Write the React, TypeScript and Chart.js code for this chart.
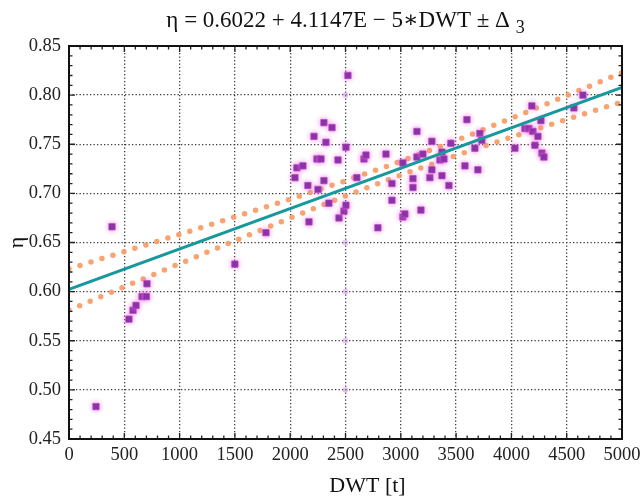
import { useEffect, useRef } from "react";
import { Chart, registerables } from "chart.js";

Chart.register(...registerables);

// Measured vessels: deadweight (t) and efficiency
const dwtValues = [
  244, 389, 542, 579, 606, 660, 700, 705, 1500, 1781,
  2043, 2061, 2115, 2160, 2170, 2215, 2242, 2278, 2251, 2305,
  2305, 2323, 2350, 2378, 2432, 2441, 2486, 2504, 2504, 2522,
  2603, 2667, 2685, 2793,
  2866, 2920, 2920, 3019, 3019, 3037, 3110, 3110, 3146, 3146,
  3182, 3200, 3263, 3281, 3281, 3354, 3372, 3372, 3390, 3435, 3453,
  3580, 3598, 3670, 3697, 3715, 3733, 4032, 4122, 4158, 4185,
  4195, 4213, 4240, 4267, 4276, 4294, 4565, 4647,
];
const etaValues = [
  0.483, 0.666, 0.572, 0.581, 0.586, 0.595, 0.595, 0.608, 0.628, 0.66,
  0.716, 0.726, 0.728, 0.708, 0.671, 0.758, 0.735, 0.735, 0.704, 0.772,
  0.713, 0.752, 0.69, 0.767, 0.734, 0.675, 0.682, 0.688, 0.747, 0.82,
  0.716, 0.735, 0.739, 0.665,
  0.74, 0.71, 0.693, 0.731, 0.676, 0.679, 0.715, 0.706, 0.763, 0.737,
  0.683, 0.74, 0.716, 0.753, 0.724, 0.734, 0.742, 0.718, 0.735, 0.708, 0.751,
  0.728, 0.775, 0.746, 0.724, 0.761, 0.754, 0.746, 0.766, 0.766, 0.789,
  0.763, 0.749, 0.758, 0.774, 0.741, 0.737, 0.787, 0.8,
];

// Faint markers along the 2500 grid line
const faintDwt = [2500, 2500, 2500, 2500, 2500];
const faintEta = [0.8, 0.65, 0.6, 0.55, 0.5];

// Regression line
const fitDwt = [0, 5000];
const fitEta = [0.6022, 0.8079];

// Confidence band (±Δ3)
const bandDwt = [0, 500, 1000, 1500, 2000, 2500, 3000, 3500, 4000, 4500, 5000];
const bandUpper = [0.6232, 0.6407, 0.6582, 0.676, 0.6941, 0.7128, 0.7326, 0.7539, 0.7764, 0.7995, 0.8228];
const bandLower = [0.5812, 0.6049, 0.6284, 0.6518, 0.6749, 0.6974, 0.7186, 0.7385, 0.7572, 0.7753, 0.793];

const xTicks = [0, 500, 1000, 1500, 2000, 2500, 3000, 3500, 4000, 4500, 5000];
const yTicks = [0.45, 0.5, 0.55, 0.6, 0.65, 0.7, 0.75, 0.8, 0.85];

const titleMain = "η = 0.6022 + 4.1147E − 5∗DWT ± Δ";
const titleSub = "3";
const xTitle = "DWT [t]";
const yTitle = "η";

const SERIF = "'Liberation Serif', 'DejaVu Serif', serif";

const pts = (xs: number[], ys: number[]) => xs.map((x, i) => ({ x, y: ys[i] }));

const framePlugin = {
  id: "frame",
  beforeDatasetDraw(chart: any, args: any) {
    if (args.meta.label === "measured" || args.meta.label === "faint") {
      const ctx = chart.ctx;
      ctx.save();
      ctx.shadowColor = args.meta.label === "measured" ? "rgba(235,110,225,0.85)" : "rgba(235,150,230,0.5)";
      ctx.shadowBlur = 5;
    }
  },
  afterDatasetDraw(chart: any, args: any) {
    if (args.meta.label === "measured" || args.meta.label === "faint") {
      chart.ctx.restore();
    }
  },
  afterDraw(chart: any) {
    const { ctx, chartArea: a, scales } = chart;
    const xs = scales.x;
    const ys = scales.y;
    ctx.save();
    // minor ticks
    ctx.strokeStyle = "#222";
    ctx.lineWidth = 1.3;
    ctx.beginPath();
    for (let v = 0; v <= 5000; v += 100) {
      const px = xs.getPixelForValue(v);
      const len = v % 500 === 0 ? 6 : 3.5;
      ctx.moveTo(px, a.bottom);
      ctx.lineTo(px, a.bottom - len);
      ctx.moveTo(px, a.top);
      ctx.lineTo(px, a.top + len);
    }
    for (let k = 45; k <= 85; k += 1) {
      const py = ys.getPixelForValue(k / 100);
      const len = k % 5 === 0 ? 6 : 3.5;
      ctx.moveTo(a.left, py);
      ctx.lineTo(a.left + len, py);
      ctx.moveTo(a.right, py);
      ctx.lineTo(a.right - len, py);
    }
    ctx.stroke();
    // frame
    ctx.strokeStyle = "#111";
    ctx.lineWidth = 2;
    ctx.strokeRect(a.left, a.top, a.right - a.left, a.bottom - a.top);

    // title with subscript
    ctx.fillStyle = "#111";
    ctx.font = `23px ${SERIF}`;
    ctx.textBaseline = "alphabetic";
    const wMain = ctx.measureText(titleMain + " ").width;
    ctx.font = `18px ${SERIF}`;
    const wSub = ctx.measureText(titleSub).width;
    const total = wMain + wSub;
    const cx = (a.left + a.right) / 2;
    const startX = cx - total / 2;
    ctx.font = `23px ${SERIF}`;
    ctx.textAlign = "left";
    ctx.fillText(titleMain + " ", startX, 27);
    ctx.font = `18px ${SERIF}`;
    ctx.fillText(titleSub, startX + wMain, 33);

    // x title
    ctx.font = `22px ${SERIF}`;
    ctx.textAlign = "center";
    ctx.fillText(xTitle, cx + 22, 492);

    // y title
    ctx.save();
    ctx.translate(17, (a.top + a.bottom) / 2);
    ctx.rotate(-Math.PI / 2);
    ctx.font = `22px ${SERIF}`;
    ctx.textAlign = "center";
    ctx.textBaseline = "middle";
    ctx.fillText(yTitle, 0, 0);
    ctx.restore();

    ctx.restore();
  },
};

export default function App() {
  const ref = useRef<HTMLCanvasElement | null>(null);

  useEffect(() => {
    document.body.style.margin = "0";
    const canvas = ref.current;
    if (!canvas) return;
    const chart = new Chart(canvas, {
      type: "scatter",
      data: {
        datasets: [
          {
            label: "fit",
            type: "line",
            data: pts(fitDwt, fitEta),
            borderColor: "#17989c",
            borderWidth: 3,
            pointRadius: 0,
            fill: false,
            order: 0,
          } as any,
          {
            label: "measured",
            data: pts(dwtValues, etaValues),
            pointStyle: "rect",
            pointRadius: 4.5,
            backgroundColor: "#7a2c9c",
            borderColor: "rgba(190,70,200,0.7)",
            borderWidth: 1,
            order: 1,
          },
          {
            label: "faint",
            data: pts(faintDwt, faintEta),
            pointStyle: "rect",
            pointRadius: 3,
            backgroundColor: "rgba(175,150,235,0.45)",
            borderColor: "rgba(235,150,230,0.3)",
            borderWidth: 1,
            order: 1,
          },
          {
            label: "upper",
            type: "line",
            data: pts(bandDwt, bandUpper),
            borderColor: "rgba(248,158,105,0.95)",
            borderWidth: 5.5,
            borderDash: [0, 11.5],
            borderCapStyle: "round",
            pointRadius: 0,
            fill: false,
            order: 2,
          } as any,
          {
            label: "lower",
            type: "line",
            data: pts(bandDwt, bandLower),
            borderColor: "rgba(248,158,105,0.95)",
            borderWidth: 5.5,
            borderDash: [0, 11.5],
            borderCapStyle: "round",
            pointRadius: 0,
            fill: false,
            order: 2,
          } as any,
        ],
      },
      options: {
        animation: false,
        responsive: false,
        devicePixelRatio: 1,
        layout: { padding: { left: 0, right: 38, top: 46, bottom: 0 } },
        plugins: {
          legend: { display: false },
          tooltip: { enabled: false },
          title: { display: false },
        },
        scales: {
          x: {
            type: "linear",
            min: 0,
            max: 5000,
            afterBuildTicks: (s: any) => {
              s.ticks = xTicks.map((v) => ({ value: v }));
            },
            afterFit: (s: any) => {
              s.height = 59;
            },
            ticks: {
              padding: 5,
              maxRotation: 0,
              autoSkip: false,
              color: "#222",
              font: { family: SERIF, size: 18.5 },
              callback: (v: any) => String(v),
            },
            grid: { color: "#3a3a3a", lineWidth: 1.3, drawTicks: false },
            border: { display: false, dash: [1.3, 2.2] },
          },
          y: {
            type: "linear",
            min: 0.45,
            max: 0.85,
            afterBuildTicks: (s: any) => {
              s.ticks = yTicks.map((v) => ({ value: v }));
            },
            afterFit: (s: any) => {
              s.width = 69;
            },
            ticks: {
              padding: 8,
              autoSkip: false,
              color: "#222",
              font: { family: SERIF, size: 18.5 },
              callback: (v: any) => Number(v).toFixed(2),
            },
            grid: { color: "#3a3a3a", lineWidth: 1.3, drawTicks: false },
            border: { display: false, dash: [1.3, 2.2] },
          },
        },
      },
      plugins: [framePlugin],
    });
    return () => chart.destroy();
  }, []);

  return (
    <div style={{ width: 643, height: 498, overflow: "hidden", background: "#fff" }}>
      <canvas ref={ref} width={660} height={498} style={{ display: "block" }} />
    </div>
  );
}
